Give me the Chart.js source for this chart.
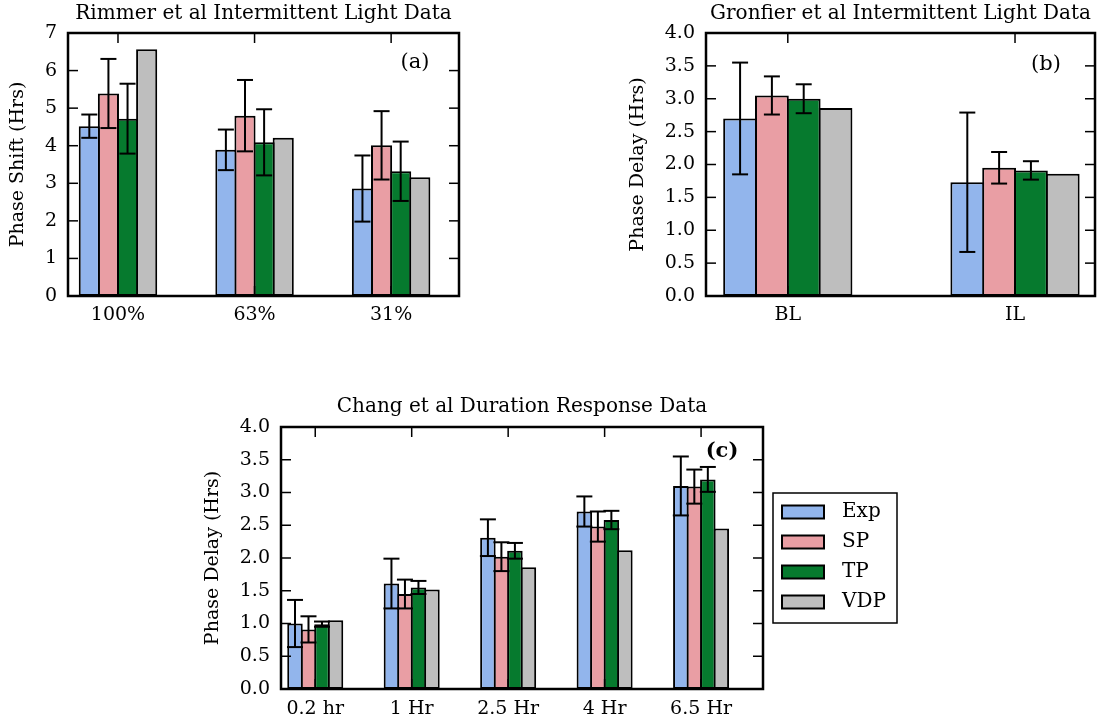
<!DOCTYPE html>
<html>
<head>
<meta charset="utf-8">
<title>Phase shift model comparison</title>
<script src="https://cdn.jsdelivr.net/npm/chart.js@4.4.1/dist/chart.umd.min.js"></script>
<style>
  body { margin: 0; background: #fff; }
  .panel { position: absolute; }
</style>
</head>
<body>
<div class="panel" style="left:0;top:0"><canvas id="rimmerChart" width="470" height="340"></canvas></div>
<div class="panel" style="left:610px;top:0"><canvas id="gronfierChart" width="489" height="340"></canvas></div>
<div class="panel" style="left:200px;top:380px"><canvas id="changChart" width="710" height="343"></canvas></div>

<script>
// series shared by all three panels
const seriesNames = ["Exp", "SP", "TP", "VDP"];
const seriesColors = ["#92b5ec", "#e99ea4", "#067a2e", "#bebebe"];

// (a) Rimmer et al intermittent light
const rimmerLabels = ["100%", "63%", "31%"];
const rimmerExp = [4.52, 3.89, 2.86];
const rimmerExpErr = [0.31, 0.54, 0.88];
const rimmerSP = [5.39, 4.80, 4.01];
const rimmerSPErr = [0.92, 0.95, 0.91];
const rimmerTP = [4.72, 4.09, 3.32];
const rimmerTPErr = [0.93, 0.88, 0.79];
const rimmerVDP = [6.57, 4.21, 3.16];

// (b) Gronfier et al intermittent light
const gronfierLabels = ["BL", "IL"];
const gronfierExp = [2.70, 1.73];
const gronfierExpErr = [0.85, 1.06];
const gronfierSP = [3.05, 1.95];
const gronfierSPErr = [0.29, 0.24];
const gronfierTP = [3.00, 1.91];
const gronfierTPErr = [0.22, 0.14];
const gronfierVDP = [2.86, 1.86];

// (c) Chang et al duration response
const changLabels = ["0.2 hr", "1 Hr", "2.5 Hr", "4 Hr", "6.5 Hr"];
const changExp = [1.00, 1.61, 2.31, 2.71, 3.10];
const changExpErr = [0.36, 0.38, 0.28, 0.23, 0.45];
const changSP = [0.91, 1.45, 2.02, 2.48, 3.09];
const changSPErr = [0.20, 0.22, 0.22, 0.23, 0.26];
const changTP = [0.99, 1.55, 2.11, 2.58, 3.20];
const changTPErr = [0.04, 0.10, 0.12, 0.14, 0.19];
const changVDP = [1.05, 1.52, 1.86, 2.12, 2.45];

const FONT = "'DejaVu Serif', serif";
Chart.defaults.font.family = FONT;
Chart.defaults.color = "#000";

// ===============================
// error bars, inward ticks, frame
// ===============================
const framePlugin = {
    id: "frame",
    afterDatasetsDraw(chart, args, opts) {
        const { ctx, chartArea: a, scales } = chart;
        const line = (x1, y1, x2, y2) => {
            ctx.beginPath();
            ctx.moveTo(x1, y1);
            ctx.lineTo(x2, y2);
            ctx.stroke();
        };
        ctx.save();
        ctx.strokeStyle = "#000";

        ctx.lineWidth = 2;
        chart.data.datasets.forEach((ds, i) => {
            if (!ds.errors) return;
            chart.getDatasetMeta(i).data.forEach((bar, j) => {
                const v = ds.data[j].y;
                const top = scales.y.getPixelForValue(v + ds.errors[j]);
                const bot = scales.y.getPixelForValue(v - ds.errors[j]);
                line(bar.x, top, bar.x, bot);
                line(bar.x - 8, top, bar.x + 8, top);
                line(bar.x - 8, bot, bar.x + 8, bot);
            });
        });

        ctx.lineWidth = 1.5;
        scales.y.ticks.forEach(t => {
            const y = scales.y.getPixelForValue(t.value);
            line(a.left, y, a.left + 10, y);
            line(a.right - 10, y, a.right, y);
        });
        scales.x.ticks.forEach(t => {
            const x = scales.x.getPixelForValue(t.value);
            line(x, a.top, x, a.top + 10);
            line(x, a.bottom - 10, x, a.bottom);
        });

        ctx.lineWidth = 2.5;
        ctx.strokeRect(a.left, a.top, a.right - a.left, a.bottom - a.top);

        ctx.fillStyle = "#000";
        ctx.font = (opts.bold ? "bold " : "") + "21px " + FONT;
        ctx.textAlign = "center";
        ctx.textBaseline = "middle";
        ctx.fillText(opts.tag, a.right + opts.tagDx, a.top + opts.tagDy);
        ctx.restore();
    }
};

// boxed legend to the right of panel (c)
const legendBoxPlugin = {
    id: "legendBox",
    afterDraw(chart) {
        const { ctx, chartArea: a } = chart;
        const w = 124, h = 130;
        const left = a.right + 10;
        const top = (a.top + a.bottom) / 2 - h / 2;
        ctx.save();
        ctx.strokeStyle = "#000";
        ctx.lineWidth = 1.5;
        ctx.strokeRect(left, top, w, h);
        ctx.font = "20px " + FONT;
        ctx.textBaseline = "middle";
        chart.data.datasets.forEach((ds, i) => {
            const y = top + 19 + i * 30;
            ctx.fillStyle = ds.backgroundColor;
            ctx.fillRect(left + 9, y - 6.5, 42, 13);
            ctx.lineWidth = 2;
            ctx.strokeRect(left + 9, y - 6.5, 42, 13);
            ctx.fillStyle = "#000";
            ctx.fillText(ds.label, left + 69, y);
        });
        ctx.restore();
    }
};

function makeDatasets(values, errors, barPct) {
    return values.map((vals, k) => ({
        label: seriesNames[k],
        data: vals.map((v, i) => ({ x: i, y: v })),
        errors: errors[k],
        backgroundColor: seriesColors[k],
        borderColor: "#000",
        borderWidth: 2,
        borderSkipped: false,
        categoryPercentage: 0.56,
        barPercentage: barPct
    }));
}

function makeOptions(p) {
    return {
        responsive: false,
        animation: false,
        events: [],
        layout: { padding: { left: 0, right: p.padRight, top: 0, bottom: 0 } },
        plugins: {
            legend: { display: false },
            tooltip: { enabled: false },
            title: {
                display: true,
                text: p.title,
                fullSize: false,
                color: "#000",
                font: { size: 20, weight: "normal" },
                padding: { top: p.titleTop, bottom: p.titleBottom }
            },
            frame: { tag: p.tag, tagDx: p.tagDx, tagDy: p.tagDy, bold: p.bold }
        },
        scales: {
            x: {
                type: "linear",
                offset: false,
                min: p.xMin,
                max: p.xMax,
                grid: { display: false, drawTicks: false },
                border: { display: false },
                ticks: {
                    stepSize: 1,
                    includeBounds: false,
                    autoSkip: false,
                    maxRotation: 0,
                    padding: p.xTickPad,
                    font: { size: 19 },
                    callback: (v) => p.labels[v]
                },
                afterFit: (scale) => { scale.height = p.xAxisHeight; }
            },
            y: {
                min: 0,
                max: p.yMax,
                grid: { display: false, drawTicks: false },
                border: { display: false },
                ticks: {
                    stepSize: p.yStep,
                    padding: 11,
                    font: { size: 19 },
                    callback: (v) => p.yStep < 1 ? v.toFixed(1) : v
                },
                title: {
                    display: true,
                    text: p.yTitle,
                    font: { size: 19 },
                    padding: { top: p.yTitleTop, bottom: 0 }
                },
                afterFit: (scale) => { scale.width = p.yAxisWidth; }
            }
        }
    };
}

// ===============================
// (a) Rimmer
// ===============================
new Chart(document.getElementById("rimmerChart"), {
    type: "bar",
    data: {
        datasets: makeDatasets(
            [rimmerExp, rimmerSP, rimmerTP, rimmerVDP],
            [rimmerExpErr, rimmerSPErr, rimmerTPErr, null],
            1.105)
    },
    options: makeOptions({
        title: "Rimmer et al Intermittent Light Data",
        yTitle: "Phase Shift (Hrs)",
        labels: rimmerLabels,
        xMin: -0.366, xMax: 2.497,
        yMax: 7, yStep: 1,
        padRight: 11, yAxisWidth: 68, xAxisHeight: 44, xTickPad: 8,
        titleTop: 2, titleBottom: 7, yTitleTop: 6.6,
        tag: "(a)", tagDx: -44, tagDy: 30, bold: false
    }),
    plugins: [framePlugin]
});

// ===============================
// (b) Gronfier
// ===============================
new Chart(document.getElementById("gronfierChart"), {
    type: "bar",
    data: {
        datasets: makeDatasets(
            [gronfierExp, gronfierSP, gronfierTP, gronfierVDP],
            [gronfierExpErr, gronfierSPErr, gronfierTPErr, null],
            1.063)
    },
    options: makeOptions({
        title: "Gronfier et al Intermittent Light Data",
        yTitle: "Phase Delay (Hrs)",
        labels: gronfierLabels,
        xMin: -0.36, xMax: 1.352,
        yMax: 4, yStep: 0.5,
        padRight: 4, yAxisWidth: 96, xAxisHeight: 44, xTickPad: 8,
        titleTop: 2, titleBottom: 7, yTitleTop: 16.6,
        tag: "(b)", tagDx: -49, tagDy: 32, bold: false
    }),
    plugins: [framePlugin]
});

// ===============================
// (c) Chang
// ===============================
new Chart(document.getElementById("changChart"), {
    type: "bar",
    data: {
        datasets: makeDatasets(
            [changExp, changSP, changTP, changVDP],
            [changExpErr, changSPErr, changTPErr, null],
            1.148)
    },
    options: makeOptions({
        title: "Chang et al Duration Response Data",
        yTitle: "Phase Delay (Hrs)",
        labels: changLabels,
        xMin: -0.355, xMax: 4.642,
        yMax: 4, yStep: 0.5,
        padRight: 147, yAxisWidth: 81, xAxisHeight: 34, xTickPad: 9,
        titleTop: 15, titleBottom: 8, yTitleTop: 1.6,
        tag: "(c)", tagDx: -41, tagDy: 25, bold: true
    }),
    plugins: [framePlugin, legendBoxPlugin]
});
</script>
</body>
</html>
